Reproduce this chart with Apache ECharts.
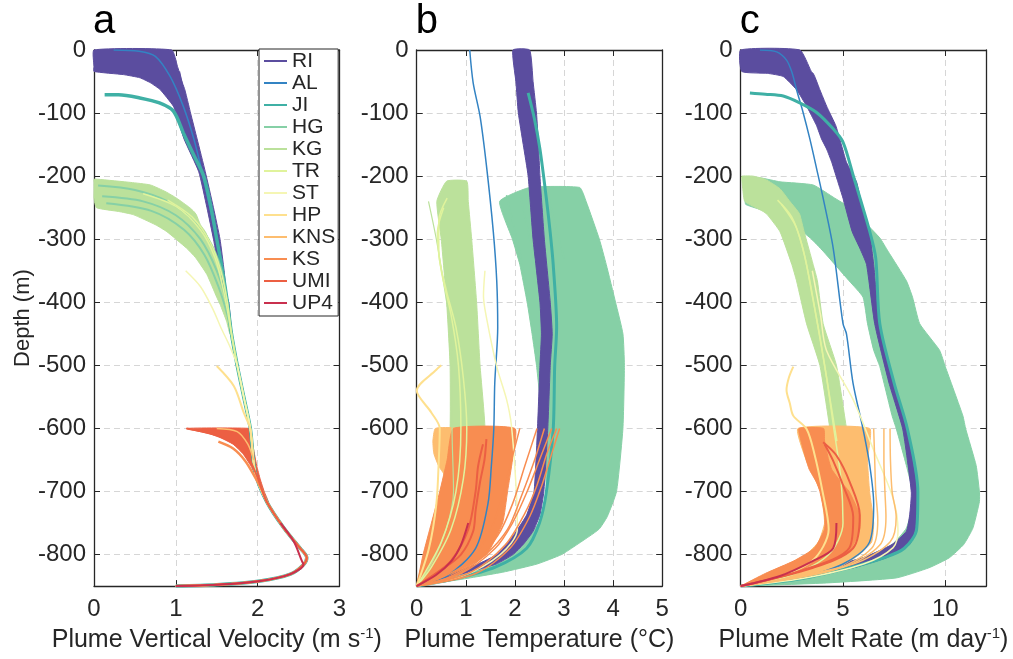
<!DOCTYPE html>
<html><head><meta charset="utf-8">
<script src="https://cdn.jsdelivr.net/npm/echarts@6.0.0/dist/echarts.min.js"></script>
<style>html,body{margin:0;padding:0;background:#fff}#c{width:1013px;height:659px}</style>
</head><body><div id="c"></div>
<script>
// ---------------- DATA (depth = metres below surface) ----------------
const groups = ['RI','AL','JI','HG','KG','TR','ST','HP','KNS','KS','UMI','UP4'];
const palette = ['#5b4d9f','#3383c3','#3fb0a5','#86d0a6','#bbe19b','#e0f39c','#f5f6b4','#fee08e','#fdbd6f','#f88d51','#ec5f43','#c9304e'];
const panelLetters = ['a','b','c'];
const xTitles = ['Plume Vertical Velocity (m s{sup|-1})','Plume Temperature (°C)','Plume Melt Rate (m day{sup|-1})'];
const xMaxes = [3, 5, 12];
const xSteps = [1, 1, 5];
const depthMax = 850;
const depthStep = 100;

// Panel a: plume vertical velocity (m/s). Points [velocity, depth]; bands [depth, left, right]
const velTrunk = [[1.64,400],[1.68,450],[1.75,500],[1.83,550],[1.91,600],[1.97,670],[2.11,716],[2.32,758],[2.52,790],[2.60,805],[2.56,816],[2.40,831],[2.03,842],[1.50,848],[1.00,850]];
const velRI_band = [[0,0.00,0.95],[26,0.00,1.02],[34,0.00,1.04],[39,0.36,1.05],[44,0.56,1.06],[52,0.69,1.08],[63,0.81,1.11],[89,0.97,1.16],[100,1.00,1.18],[141,1.10,1.26],[193,1.28,1.36],[250,1.38,1.46],[300,1.46,1.54],[350,1.53,1.59],[380,1.58,1.61]];
const velRI_line = [[1.04,34],[1.10,70],[1.20,130],[1.33,200],[1.46,280],[1.55,340],[1.61,390]];
const velAL = [[0.24,0],[0.55,2],[0.75,10],[0.93,42],[1.09,89],[1.22,141],[1.32,193],[1.45,270],[1.55,330],[1.62,390]];
const velJI = [[0.13,71],[0.30,71],[0.56,76],[0.80,84],[0.97,97],[1.09,131],[1.22,167],[1.34,200],[1.43,250],[1.50,300],[1.57,350],[1.63,400]];
const velKG_band = [[205,0.00,0.05],[210,0.00,0.45],[214,0.00,0.69],[225,0.00,0.88],[235,0.00,1.01],[250,0.03,1.17],[256,0.30,1.22],[261,0.48,1.25],[277,0.75,1.30],[288,0.89,1.36],[314,1.13,1.45],[329,1.24,1.50],[356,1.38,1.56],[392,1.50,1.62],[403,1.54,1.63],[430,1.62,1.66],[450,1.66,1.68]];
const velHG = [
  [[0.05,215],[0.50,222],[0.90,240],[1.20,268],[1.40,300],[1.55,345],[1.63,400]],
  [[0.10,232],[0.60,240],[1.00,262],[1.30,300],[1.50,350],[1.62,400]],
  [[0.15,243],[0.70,255],[1.10,285],[1.35,325],[1.52,375],[1.63,420]]
];
const velTR = [
  [[0.60,228],[1.00,248],[1.30,285],[1.48,330],[1.58,380],[1.64,420]],
  [[0.90,238],[1.20,265],[1.42,305],[1.55,350],[1.63,400]]
];
const velST = [[1.12,350],[1.30,375],[1.45,410],[1.55,440],[1.66,470]];
const velHP = [[1.50,501],[1.71,533],[1.83,575],[1.91,601]];
const velKS = [[1.52,621],[1.70,632],[1.85,652],[1.98,680],[2.06,700]];
const velUMI_band = [[600,1.13,1.91],[608,1.40,1.92],[615,1.55,1.93],[625,1.70,1.94],[640,1.82,1.96],[660,1.92,1.99],[680,1.99,2.03],[700,2.05,2.08],[716,2.11,2.13]];
const velKNS = [[1.50,600],[1.75,605],[1.88,625],[1.95,650]];
const velUMI = [[1.13,600],[1.45,609],[1.70,622],[1.87,643],[1.99,675],[2.11,716]];
const velUP4 = [[2.28,750],[2.44,779],[2.54,810]];

// Panel b: plume temperature (°C)
const tmpRI_band = [[0,1.96,2.30],[50,2.02,2.37],[100,2.07,2.44],[150,2.17,2.48],[200,2.27,2.51],[300,2.37,2.60],[400,2.51,2.72],[450,2.54,2.76],[500,2.51,2.72],[600,2.46,2.67],[700,2.39,2.59],[737,2.24,2.51],[763,2.03,2.37],[784,1.83,2.17],[800,1.63,1.96],[815,1.25,1.62],[828,0.75,1.05],[840,0.30,0.45],[848,0.00,0.05]];
const tmpAL = [[1.08,0],[1.15,52],[1.29,105],[1.42,183],[1.56,288],[1.63,366],[1.65,440],[1.59,528],[1.57,601],[1.52,660],[1.45,720],[1.20,790],[0.60,835],[0.00,850]];
const tmpJI = [[2.27,68],[2.40,110],[2.51,157],[2.64,235],[2.72,290],[2.78,340],[2.85,439],[2.81,502],[2.78,601],[2.64,701],[2.50,750],[2.24,790],[1.60,820],[0.80,838],[0.00,850]];
const tmpHG_band = [[218,2.30,3.32],[240,1.69,3.45],[300,1.95,3.72],[340,2.10,3.86],[400,2.25,4.05],[450,2.35,4.20],[500,2.44,4.23],[600,2.57,4.20],[700,2.64,4.07],[740,2.55,3.88],[760,2.40,3.71],[785,2.17,3.25],[800,1.97,2.95],[815,1.65,2.45],[828,1.10,1.75],[840,0.50,0.85],[848,0.00,0.10]];
const tmpHG = [
  [[1.83,230],[1.95,270],[2.10,320],[2.25,390]],
  [[2.10,229],[2.25,280],[2.40,340]],
  [[2.64,216],[2.80,270],[3.00,330]]
];
const tmpKG_band = [[208,0.61,1.02],[240,0.41,1.05],[300,0.50,1.12],[400,0.61,1.22],[500,0.68,1.29],[600,0.68,1.39],[650,0.60,1.30],[700,0.50,1.15],[760,0.30,0.90],[810,0.12,0.50],[848,0.00,0.05]];
const tmpKG = [[0.24,240],[0.40,300],[0.55,370],[0.68,439],[0.72,500],[0.72,600],[0.75,700],[0.60,760],[0.30,815],[0.00,850]];
const tmpTR = [
  [[0.62,235],[0.45,270],[0.45,320],[0.60,380],[0.80,440],[0.95,520],[1.02,600],[0.95,680],[0.70,760],[0.30,820],[0.00,850]],
  [[0.55,250],[0.42,290],[0.50,350],[0.70,420],[0.85,500],[0.90,600],[0.80,700],[0.50,780],[0.00,850]]
];
const tmpST = [[1.39,350],[1.36,390],[1.42,424],[1.63,502],[1.83,554],[1.93,596],[2.03,701],[2.05,760],[1.70,800],[0.90,835],[0.00,850]];
const tmpHP = [[0.50,500],[0.40,507],[0.00,540],[0.30,575],[0.47,600],[0.45,650],[0.40,720],[0.25,790],[0.00,850]];
const tmpKNS_band = [[600,0.38,0.80],[620,0.33,0.85],[640,0.35,0.88],[660,0.45,0.90],[680,0.62,0.95],[700,0.68,1.00]];
const tmpKS_band = [[600,0.75,2.00],[650,0.62,1.95],[700,0.47,1.85],[750,0.30,1.75],[800,0.13,1.42],[830,0.05,0.75],[848,0.00,0.05]];
const tmpKS = [
  [[2.91,600],[2.75,640],[2.55,690],[2.30,740],[1.90,790],[1.20,830],[0.00,850]],
  [[2.85,600],[2.65,640],[2.45,690],[2.20,735],[1.80,785],[1.10,828],[0.00,850]],
  [[2.75,600],[2.50,650],[2.25,700],[1.95,750],[1.60,790],[0.90,830],[0.00,850]],
  [[2.60,600],[2.38,655],[2.12,710],[1.85,760],[1.40,800],[0.75,835],[0.00,850]],
  [[2.45,600],[2.20,660],[1.95,720],[1.65,770],[1.20,810],[0.60,838],[0.00,850]],
  [[2.10,600],[1.90,660],[1.70,720],[1.45,770],[1.00,815],[0.40,840],[0.00,850]]
];
const tmpUMI = [
  [[1.42,617],[1.38,650],[1.29,685],[1.20,730],[1.15,763],[0.90,800],[0.47,826],[0.00,850]],
  [[1.35,625],[1.25,660],[1.20,700],[1.05,760],[0.70,810],[0.30,835],[0.00,850]]
];
const tmpUP4 = [[1.05,750],[0.90,785],[0.71,810],[0.40,832],[0.00,850]];

// Panel c: plume melt rate (m/day)
const meltRI_band = [[0,0.00,2.89],[34,0.05,3.45],[37,1.30,3.54],[42,2.08,3.62],[63,2.73,3.87],[89,3.22,4.20],[100,3.40,4.36],[120,3.71,4.65],[141,3.95,4.84],[157,4.20,4.98],[178,4.45,5.17],[209,4.75,5.66],[235,5.00,5.85],[288,5.45,6.31],[314,5.82,6.40],[340,6.15,6.50],[434,6.55,6.78],[528,7.25,7.50],[601,7.92,8.15],[701,8.34,8.66],[737,8.26,8.66],[763,8.10,8.50],[784,7.40,8.26],[805,5.98,7.12],[821,4.00,5.50],[835,2.00,3.20],[845,0.60,1.30],[850,0.00,0.10]];
const meltAL = [[0.94,0],[1.76,3],[2.24,16],[2.50,35],[2.73,63],[3.05,99],[3.38,141],[3.71,188],[4.03,235],[4.52,314],[5.00,434],[5.17,450],[5.49,528],[5.98,601],[6.31,659],[6.50,720],[6.30,780],[5.00,815],[2.50,840],[0.00,850]];
const meltJI = [[0.45,68],[1.20,70],[2.08,73],[2.89,84],[3.71,99],[4.52,125],[5.00,146],[5.50,199],[6.31,288],[6.60,330],[6.80,434],[7.50,528],[8.15,601],[8.66,701],[8.60,760],[8.00,790],[7.00,805],[5.30,821],[3.00,838],[0.00,850]];
const meltHG_band = [[203,0.10,1.00],[209,0.10,1.92],[214,0.15,3.54],[235,0.20,4.60],[245,0.25,5.10],[256,1.30,5.49],[261,1.92,5.70],[298,3.40,6.80],[319,4.03,7.20],[366,5.30,8.10],[392,5.98,8.40],[434,6.20,8.75],[476,6.50,9.72],[502,6.80,10.00],[580,7.40,10.86],[601,7.61,11.00],[659,8.10,11.51],[701,8.42,11.67],[716,8.45,11.67],[758,8.10,11.35],[784,7.40,10.90],[805,6.00,10.20],[821,4.00,9.20],[837,1.10,7.61],[845,0.40,4.20],[850,0.00,0.10]];
const meltKG_band = [[200,0.05,0.60],[205,0.05,1.20],[220,0.10,1.92],[240,0.20,2.40],[256,1.10,2.80],[261,1.30,2.89],[288,1.92,3.10],[340,2.50,3.54],[366,2.73,3.75],[434,3.22,4.03],[500,3.87,4.68],[600,4.36,5.17],[650,4.60,5.40],[700,4.80,5.60],[760,4.60,5.50],[800,3.50,4.50],[830,1.80,2.60],[850,0.00,0.10]];
const meltTR = [
  [[1.80,238],[2.50,265],[3.00,310],[3.40,370],[3.75,434],[4.20,520],[4.55,600],[4.90,680],[5.00,750],[4.30,800],[2.50,832],[0.00,850]],
  [[2.00,245],[2.70,280],[3.15,330],[3.50,390],[3.90,460],[4.30,540],[4.70,620]]
];
const meltST = [[3.50,350],[3.90,420],[4.19,476],[5.49,554],[6.47,632],[7.45,711],[7.69,763],[7.45,789],[6.00,815],[3.00,838],[0.00,850]];
const meltHP = [[2.57,502],[2.35,520],[2.24,539],[2.40,560],[2.57,580],[3.22,601],[3.60,640],[4.00,700],[4.30,760],[3.50,810],[1.50,840],[0.00,850]];
const meltKNS_band = [[600,2.80,6.30],[650,3.20,6.20],[700,3.90,6.30],[750,4.10,6.50],[780,3.80,6.40],[800,3.20,5.80],[820,2.20,4.80],[840,0.70,2.00],[850,0.00,0.10]];
const meltKNS = [
  [[6.50,600],[6.55,650],[6.60,700],[6.70,745],[6.40,790],[4.50,825],[0.00,850]],
  [[7.30,600],[7.32,650],[7.40,700],[7.60,740],[7.30,780],[5.50,815],[0.00,850]],
  [[7.00,600],[7.00,650],[7.05,700],[7.10,740],[6.80,785],[5.00,820],[0.00,850]]
];
const meltKS_band = [[600,2.85,4.05],[620,2.95,4.10],[650,3.20,4.30],[665,3.35,4.45],[685,3.70,4.90],[700,3.87,5.30],[737,4.10,5.82],[760,4.10,5.82],[790,3.60,5.40],[810,2.60,4.50],[830,1.20,2.60],[850,0.00,0.10]];
const meltUMI = [
  [[4.03,622],[4.68,643],[5.33,685],[5.82,737],[5.49,790],[3.54,821],[0.00,850]],
  [[4.10,625],[4.50,650],[5.00,690],[5.50,740],[5.30,790],[3.00,825],[0.00,850]]
];
const meltUP4 = [[4.68,750],[4.52,790],[3.54,810],[1.92,834],[0.00,850]];

// ---------------- CHART ----------------
const FONT = '"Liberation Sans", Arial, Helvetica, sans-serif';
const INK = '#262626';
const gridLefts = [94, 416.7, 740.7];
const GT = 50, GW = 245.5, GH = 541.7;
const col = n => palette[groups.indexOf(n)];
const series = [];

function addLine(p, name, pts, w) {
  series.push({
    type: 'line', name, xAxisIndex: p * 2, yAxisIndex: p * 2, data: pts,
    showSymbol: false, symbol: 'none', smooth: 0.3, silent: true,
    lineStyle: { width: w || 1.5, color: col(name) }, itemStyle: { color: col(name) }
  });
}
function addBand(p, name, rows) {
  series.push({
    type: 'custom', name, xAxisIndex: p * 2, yAxisIndex: p * 2, data: [[0, 0]], silent: true,
    itemStyle: { color: col(name) },
    renderItem: (params, api) => {
      const pts = [];
      rows.forEach(r => pts.push(api.coord([r[1], r[0]])));
      for (let i = rows.length - 1; i >= 0; i--) pts.push(api.coord([rows[i][2], rows[i][0]]));
      return { type: 'polygon', shape: { points: pts, smooth: 0.15 }, style: { fill: col(name), stroke: col(name), lineWidth: 1 } };
    }
  });
}
const withTrunk = pts => pts.concat(velTrunk.filter(q => q[1] > pts[pts.length - 1][1]));

// panel a
addBand(0, 'RI', velRI_band);
addLine(0, 'RI', withTrunk(velRI_line), 2);
addLine(0, 'AL', withTrunk(velAL));
addLine(0, 'JI', withTrunk(velJI), 3.5);
addBand(0, 'KG', velKG_band);
velHG.forEach(l => addLine(0, 'HG', withTrunk(l), 2));
velTR.forEach(l => addLine(0, 'TR', withTrunk(l), 1.5));
addLine(0, 'ST', withTrunk(velST), 1.5);
addLine(0, 'HP', withTrunk(velHP), 2);
addLine(0, 'KS', withTrunk(velKS), 2.5);
addBand(0, 'UMI', velUMI_band);
addLine(0, 'KNS', velKNS, 1.5);
addLine(0, 'UMI', withTrunk(velUMI), 2);
addLine(0, 'UP4', withTrunk(velUP4), 2);

// panel b
addBand(1, 'HG', tmpHG_band);
tmpHG.forEach(l => addLine(1, 'HG', l, 1.5));
addBand(1, 'RI', tmpRI_band);
addLine(1, 'AL', tmpAL, 1.5);
addLine(1, 'JI', tmpJI, 3);
addBand(1, 'KG', tmpKG_band);
addLine(1, 'KG', tmpKG, 1.2);
tmpTR.forEach(l => addLine(1, 'TR', l, 1.5));
addLine(1, 'ST', tmpST, 1.5);
addLine(1, 'HP', tmpHP, 2);
addBand(1, 'KNS', tmpKNS_band);
addBand(1, 'KS', tmpKS_band);
tmpKS.forEach(l => addLine(1, 'KS', l, 1.5));
tmpUMI.forEach(l => addLine(1, 'UMI', l, 2));
addLine(1, 'UP4', tmpUP4, 2);

// panel c
addBand(2, 'HG', meltHG_band);
addBand(2, 'RI', meltRI_band);
addLine(2, 'AL', meltAL, 1.5);
addLine(2, 'JI', meltJI, 3);
addBand(2, 'KG', meltKG_band);
meltTR.forEach(l => addLine(2, 'TR', l, 1.5));
addLine(2, 'ST', meltST, 1.5);
addLine(2, 'HP', meltHP, 2);
addBand(2, 'KNS', meltKNS_band);
meltKNS.forEach(l => addLine(2, 'KNS', l, 1.5));
addBand(2, 'KS', meltKS_band);
meltUMI.forEach(l => addLine(2, 'UMI', l, 2));
addLine(2, 'UP4', meltUP4, 2);

const grids = [], xAxes = [], yAxes = [];
const tickStyle = { show: true, inside: true, length: 6, lineStyle: { color: INK, width: 1 } };
const lineStyleAx = { show: true, onZero: false, lineStyle: { color: INK, width: 1.3 } };
const splitStyle = { show: true, lineStyle: { color: '#d6d6d6', width: 1, type: [6, 4] } };
for (let p = 0; p < 3; p++) {
  grids.push({ left: gridLefts[p], top: GT, width: GW, height: GH, containLabel: false });
  xAxes.push({
    gridIndex: p, type: 'value', position: 'bottom', min: 0, max: xMaxes[p], interval: xSteps[p],
    axisLine: lineStyleAx, axisTick: tickStyle, splitLine: splitStyle,
    axisLabel: { color: INK, fontSize: 24, fontFamily: FONT, margin: 11, showMinLabel: true, showMaxLabel: p !== 2 },
    name: xTitles[p], nameLocation: 'middle', nameGap: p === 1 ? 29 : 33,
    nameTextStyle: { color: INK, fontSize: 25, fontFamily: FONT, lineHeight: 28,
      rich: { sup: { fontSize: 15, fontFamily: FONT, color: INK, verticalAlign: 'top', lineHeight: 28 } } }
  });
  xAxes.push({
    gridIndex: p, type: 'value', position: 'top', min: 0, max: xMaxes[p], interval: xSteps[p],
    axisLine: lineStyleAx, axisTick: tickStyle, splitLine: { show: false }, axisLabel: { show: false }
  });
  yAxes.push({
    gridIndex: p, type: 'value', position: 'left', inverse: true, min: 0, max: depthMax, interval: depthStep,
    axisLine: lineStyleAx, axisTick: tickStyle, splitLine: splitStyle,
    axisLabel: { color: INK, fontSize: 24, fontFamily: FONT, margin: 8, showMinLabel: true, showMaxLabel: false,
      formatter: v => (v === 0 ? '0' : '-' + v) },
    name: p === 0 ? 'Depth (m)' : '', nameLocation: 'middle', nameGap: 60, nameRotate: 90,
    nameTextStyle: { color: INK, fontSize: 22, fontFamily: FONT }
  });
  yAxes.push({
    gridIndex: p, type: 'value', position: 'right', inverse: true, min: 0, max: depthMax, interval: depthStep,
    axisLine: lineStyleAx, axisTick: tickStyle, splitLine: { show: false }, axisLabel: { show: false }
  });
}

const chart = echarts.init(document.getElementById('c'), null, { renderer: 'canvas' });
chart.setOption({
  animation: false,
  backgroundColor: '#fff',
  grid: grids, xAxis: xAxes, yAxis: yAxes, series,
  legend: {
    data: groups, orient: 'vertical', left: 259, top: 49, icon: 'rect', itemWidth: 23, itemHeight: 2,
    itemGap: 0, padding: [1, 3, 2, 5], borderColor: INK, borderWidth: 1, backgroundColor: '#fff',
    selectedMode: false, z: 20,
    textStyle: { fontSize: 21, lineHeight: 22, color: INK, fontFamily: FONT }
  },
  graphic: panelLetters.map((t, i) => ({
    type: 'text', x: gridLefts[i] - 1, y: 22, z: 30,
    style: { text: t, font: '40px ' + FONT, fill: '#000', verticalAlign: 'middle' }
  }))
});
</script></body></html>
